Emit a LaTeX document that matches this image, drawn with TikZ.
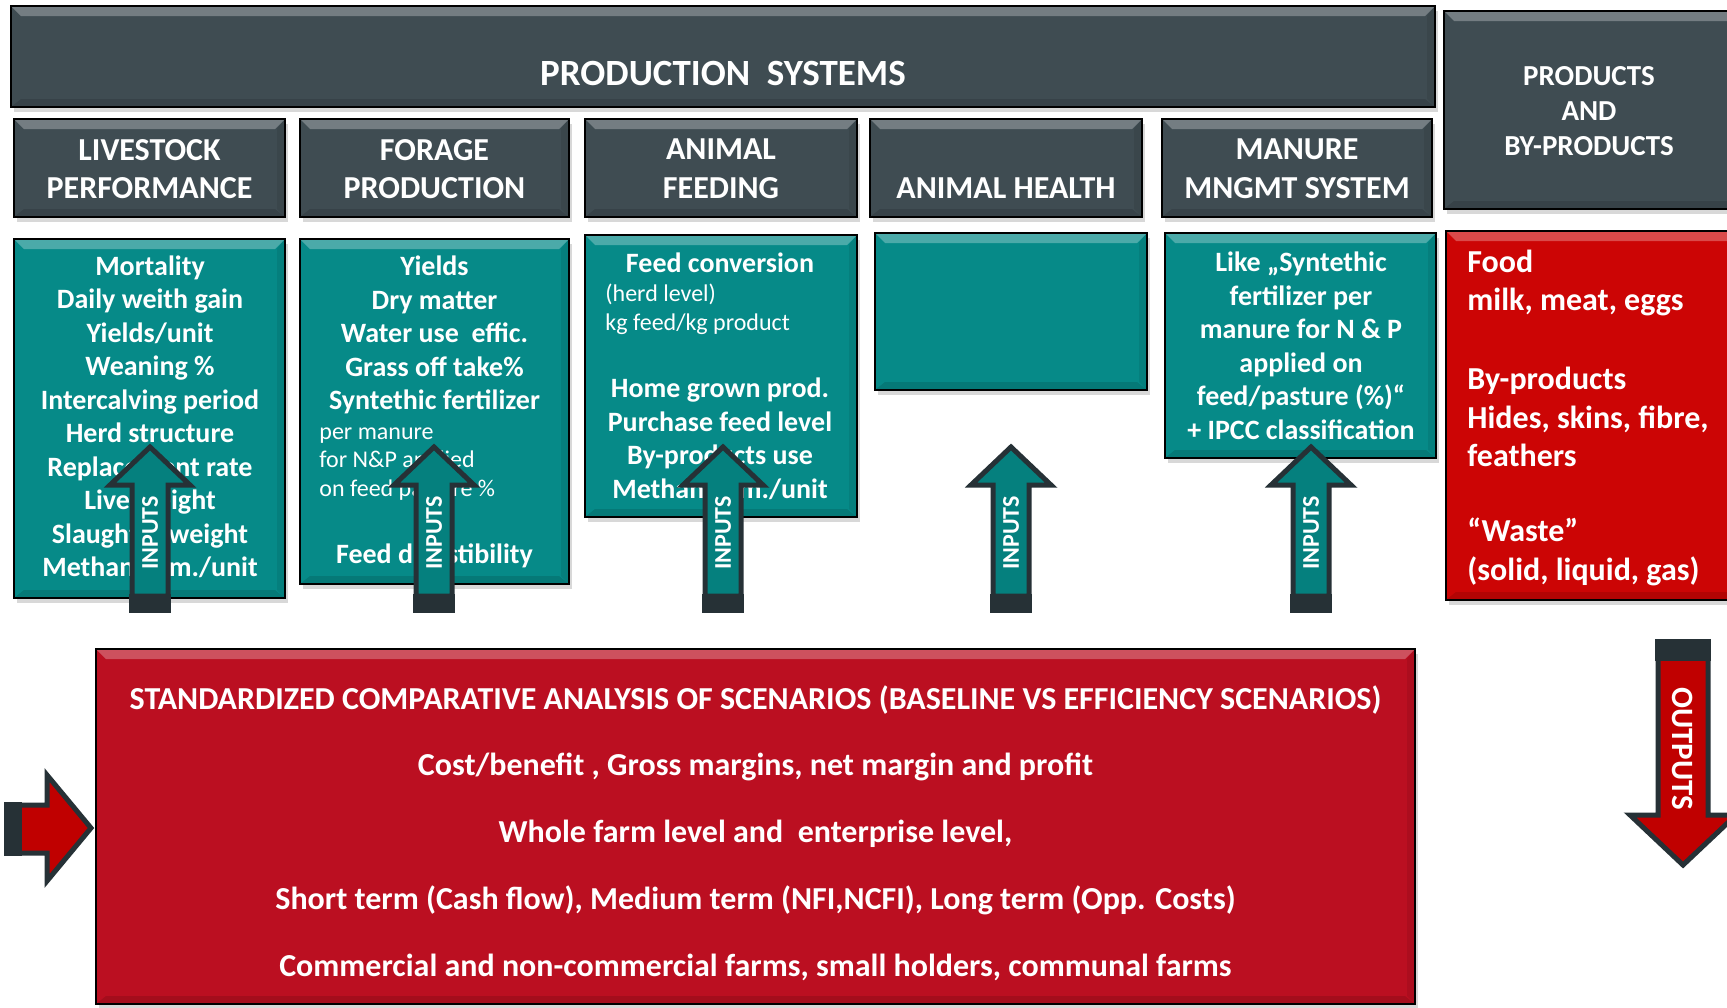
\documentclass[tikz,border=0pt]{standalone}
\usepackage{fontspec}
\setmainfont{Carlito}
\usetikzlibrary{shadows,fit}
\definecolor{hdr}{RGB}{63,76,82}
\definecolor{teal1}{RGB}{6,138,136}
\definecolor{bigred}{RGB}{187,15,33}
\definecolor{prodred}{RGB}{204,5,5}
\definecolor{adark}{RGB}{38,49,54}
\definecolor{ateal}{RGB}{5,128,126}
\definecolor{ared}{RGB}{192,0,0}
\newcommand\fsz[2]{\fontsize{#1}{#2}\selectfont}
\tikzset{
  bx/.style={draw=black, line width=1pt, inner sep=0pt, outer sep=0pt,
    drop shadow={shadow xshift=1.5pt, shadow yshift=-2.5pt, opacity=.3},
    path picture={
      \fill[white,opacity=.28] (path picture bounding box.north west) -- (path picture bounding box.north east)
        -- ([xshift=-5pt,yshift=-5pt]path picture bounding box.north east) -- ([xshift=5pt,yshift=-5pt]path picture bounding box.north west) -- cycle;
      \fill[black,opacity=.12] (path picture bounding box.south west) -- (path picture bounding box.south east)
        -- ([xshift=-5pt,yshift=4pt]path picture bounding box.south east) -- ([xshift=5pt,yshift=4pt]path picture bounding box.south west) -- cycle;
      \fill[black,opacity=.08] (path picture bounding box.north east) -- (path picture bounding box.south east)
        -- ([xshift=-4pt,yshift=4pt]path picture bounding box.south east) -- ([xshift=-4pt,yshift=-5pt]path picture bounding box.north east) -- cycle;
    }},
  tx/.style={text=white, align=center, inner sep=0pt},
  fbig/.style={font=\bfseries\fsz{18.5}{22}},
  fhdr/.style={font=\bfseries\fsz{16}{19.3}},
  fprh/.style={font=\bfseries\fsz{14.5}{17.3}},
  fbody/.style={font=\bfseries\fsz{14}{16.75}},
  fsmall/.style={font=\fsz{12}{14.4}},
  fprod/.style={font=\bfseries\fsz{16}{19.2}},
  fred/.style={font=\bfseries\fsz{16}{33.4}},
  farr/.style={font=\bfseries\fsz{12}{14}},
  farr2/.style={font=\bfseries\fsz{15.5}{18}},
  blockarrow/.style={draw=adark, line width=2.5pt, line join=miter},
}
\newcommand\inarrow[2]{%
  \draw[blockarrow, fill=ateal] (#2-18,596) -- (#2-18,485) -- (#2-40,485) -- (#2,447) -- (#2+40,485) -- (#2+18,485) -- (#2+18,596) -- cycle;
  \fill[adark] (#2-21,594) rectangle (#2+21,613);
  \node[tx, farr, rotate=90] (#1) at (#2,533) {INPUTS};
}
\begin{document}
\begin{tikzpicture}[x=0.5pt,y=-0.5pt]
\useasboundingbox (0,0) rectangle (1727,1007);
\clip (0,0) rectangle (1727,1007);
\fill[white] (0,0) rectangle (1727,1007);

% top banner and product header
\node[bx, fill=hdr, fit={(11,6) (1435,107)}] (banner) {};
\node[tx, fbig] (bannert) at (723,74) {PRODUCTION\ \ SYSTEMS};
\node[bx, fill=hdr, fit={(1444,11) (1745,209)}] (prodh) {};
\node[tx, fprh] (prodht) at (1589,111) {PRODUCTS\\AND\\BY-PRODUCTS};

% header boxes
\node[bx, fill=hdr, fit={(14,119) (285,217)}] (h1) {};
\node[bx, fill=hdr, fit={(300,119) (569,217)}] (h2) {};
\node[bx, fill=hdr, fit={(585,119) (857,217)}] (h3) {};
\node[bx, fill=hdr, fit={(870,119) (1142,217)}] (h4) {};
\node[bx, fill=hdr, fit={(1162,119) (1432,217)}] (h5) {};
\node[tx, fhdr] (h1t) at (149.5,169) {LIVESTOCK\\PERFORMANCE};
\node[tx, fhdr] (h2t) at (434.5,169) {FORAGE\\PRODUCTION};
\node[tx, fhdr] (h3t) at (721,169) {ANIMAL\\FEEDING};
\node[tx, fhdr] (h4t) at (1006,188) {ANIMAL HEALTH};
\node[tx, fhdr] (h5t) at (1297,169) {MANURE\\MNGMT SYSTEM};

% teal content boxes
\node[bx, fill=teal1, fit={(14,239) (285,598)}] (b1) {};
\node[bx, fill=teal1, fit={(300,239) (569,584)}] (b2) {};
\node[bx, fill=teal1, fit={(585,235) (857,517)}] (b3) {};
\node[bx, fill=teal1, fit={(875,233) (1147,390)}] (b4) {};
\node[bx, fill=teal1, fit={(1165,233) (1436,458)}] (b5) {};

\node[tx, fbody] (b1t) at (150,417) {Mortality\\Daily weith gain\\Yields/unit\\Weaning \%\\Intercalving period\\Herd structure\\Replacement rate\\Live weight\\Slaughter weight\\Methane em./unit};

\node[tx, fbody] (b2t) at (434.5,335) {Yields\\Dry matter\\Water use\ \ effic.\\Grass off take\%\\Syntethic fertilizer};
\node[tx, fsmall, align=left, anchor=west] (b2s) at (319,464) {per manure\\for N\&P applied\\on feed pasture \%};
\node[tx, fbody] (b2u) at (434.5,556) {Feed digestibility};

\node[tx, fbody] (b3t) at (720,263) {Feed conversion};
\node[tx, fsmall, align=left, anchor=west] (b3s) at (605,309) {(herd level)\\kg feed/kg product};
\node[tx, fbody] (b3u) at (720,439) {Home grown prod.\\Purchase feed level\\By-products use\\Methane em./unit};

\node[tx, fbody] (b5t) at (1301,346) {Like „Syntethic\\fertilizer per\\manure for N \& P\\applied on\\feed/pasture (\%)“\\+ IPCC classification};

% products box
\node[bx, fill=prodred, fit={(1446,231) (1745,600)}] (prod) {};
\node[tx, fprod, align=left, anchor=west] (prod1) at (1467,283) {Food\\milk, meat, eggs};
\node[tx, fprod, align=left, anchor=west] (prod2) at (1467,417) {By-products\\Hides, skins, fibre,\\feathers};
\node[tx, fprod, align=left, anchor=west] (prod3) at (1467,552) {“Waste”\\(solid, liquid, gas)};

% big analysis box
\node[bx, fill=bigred, fit={(96,649) (1415,1004)}] (big) {};
\node[tx, fred] (bigt) at (755.5,833) {STANDARDIZED COMPARATIVE ANALYSIS OF SCENARIOS (BASELINE VS EFFICIENCY SCENARIOS)\\
Cost/benefit , Gross margins, net margin and profit\\
Whole farm level and\ \ enterprise level,\\
Short term (Cash flow), Medium term (NFI,NCFI), Long term (Opp. Costs)\\
Commercial and non-commercial farms, small holders, communal farms};

% input arrows
\inarrow{in1}{150}
\inarrow{in2}{434}
\inarrow{in3}{723}
\inarrow{in4}{1011}
\inarrow{in5}{1311}

% left arrow
\draw[blockarrow, fill=ared] (8,805) -- (47,805) -- (47,775) -- (91,828) -- (47,881) -- (47,853) -- (8,853) -- cycle;
\fill[adark] (4,802) rectangle (22,856);

% output arrow
\draw[blockarrow, fill=ared] (1658,655) -- (1658,815) -- (1630,815) -- (1683,865) -- (1736,815) -- (1708,815) -- (1708,655) -- cycle;
\fill[adark] (1655,639) rectangle (1711,661);
\node[tx, farr2, rotate=-90] (outt) at (1683,749) {OUTPUTS};
\end{tikzpicture}
\end{document}
